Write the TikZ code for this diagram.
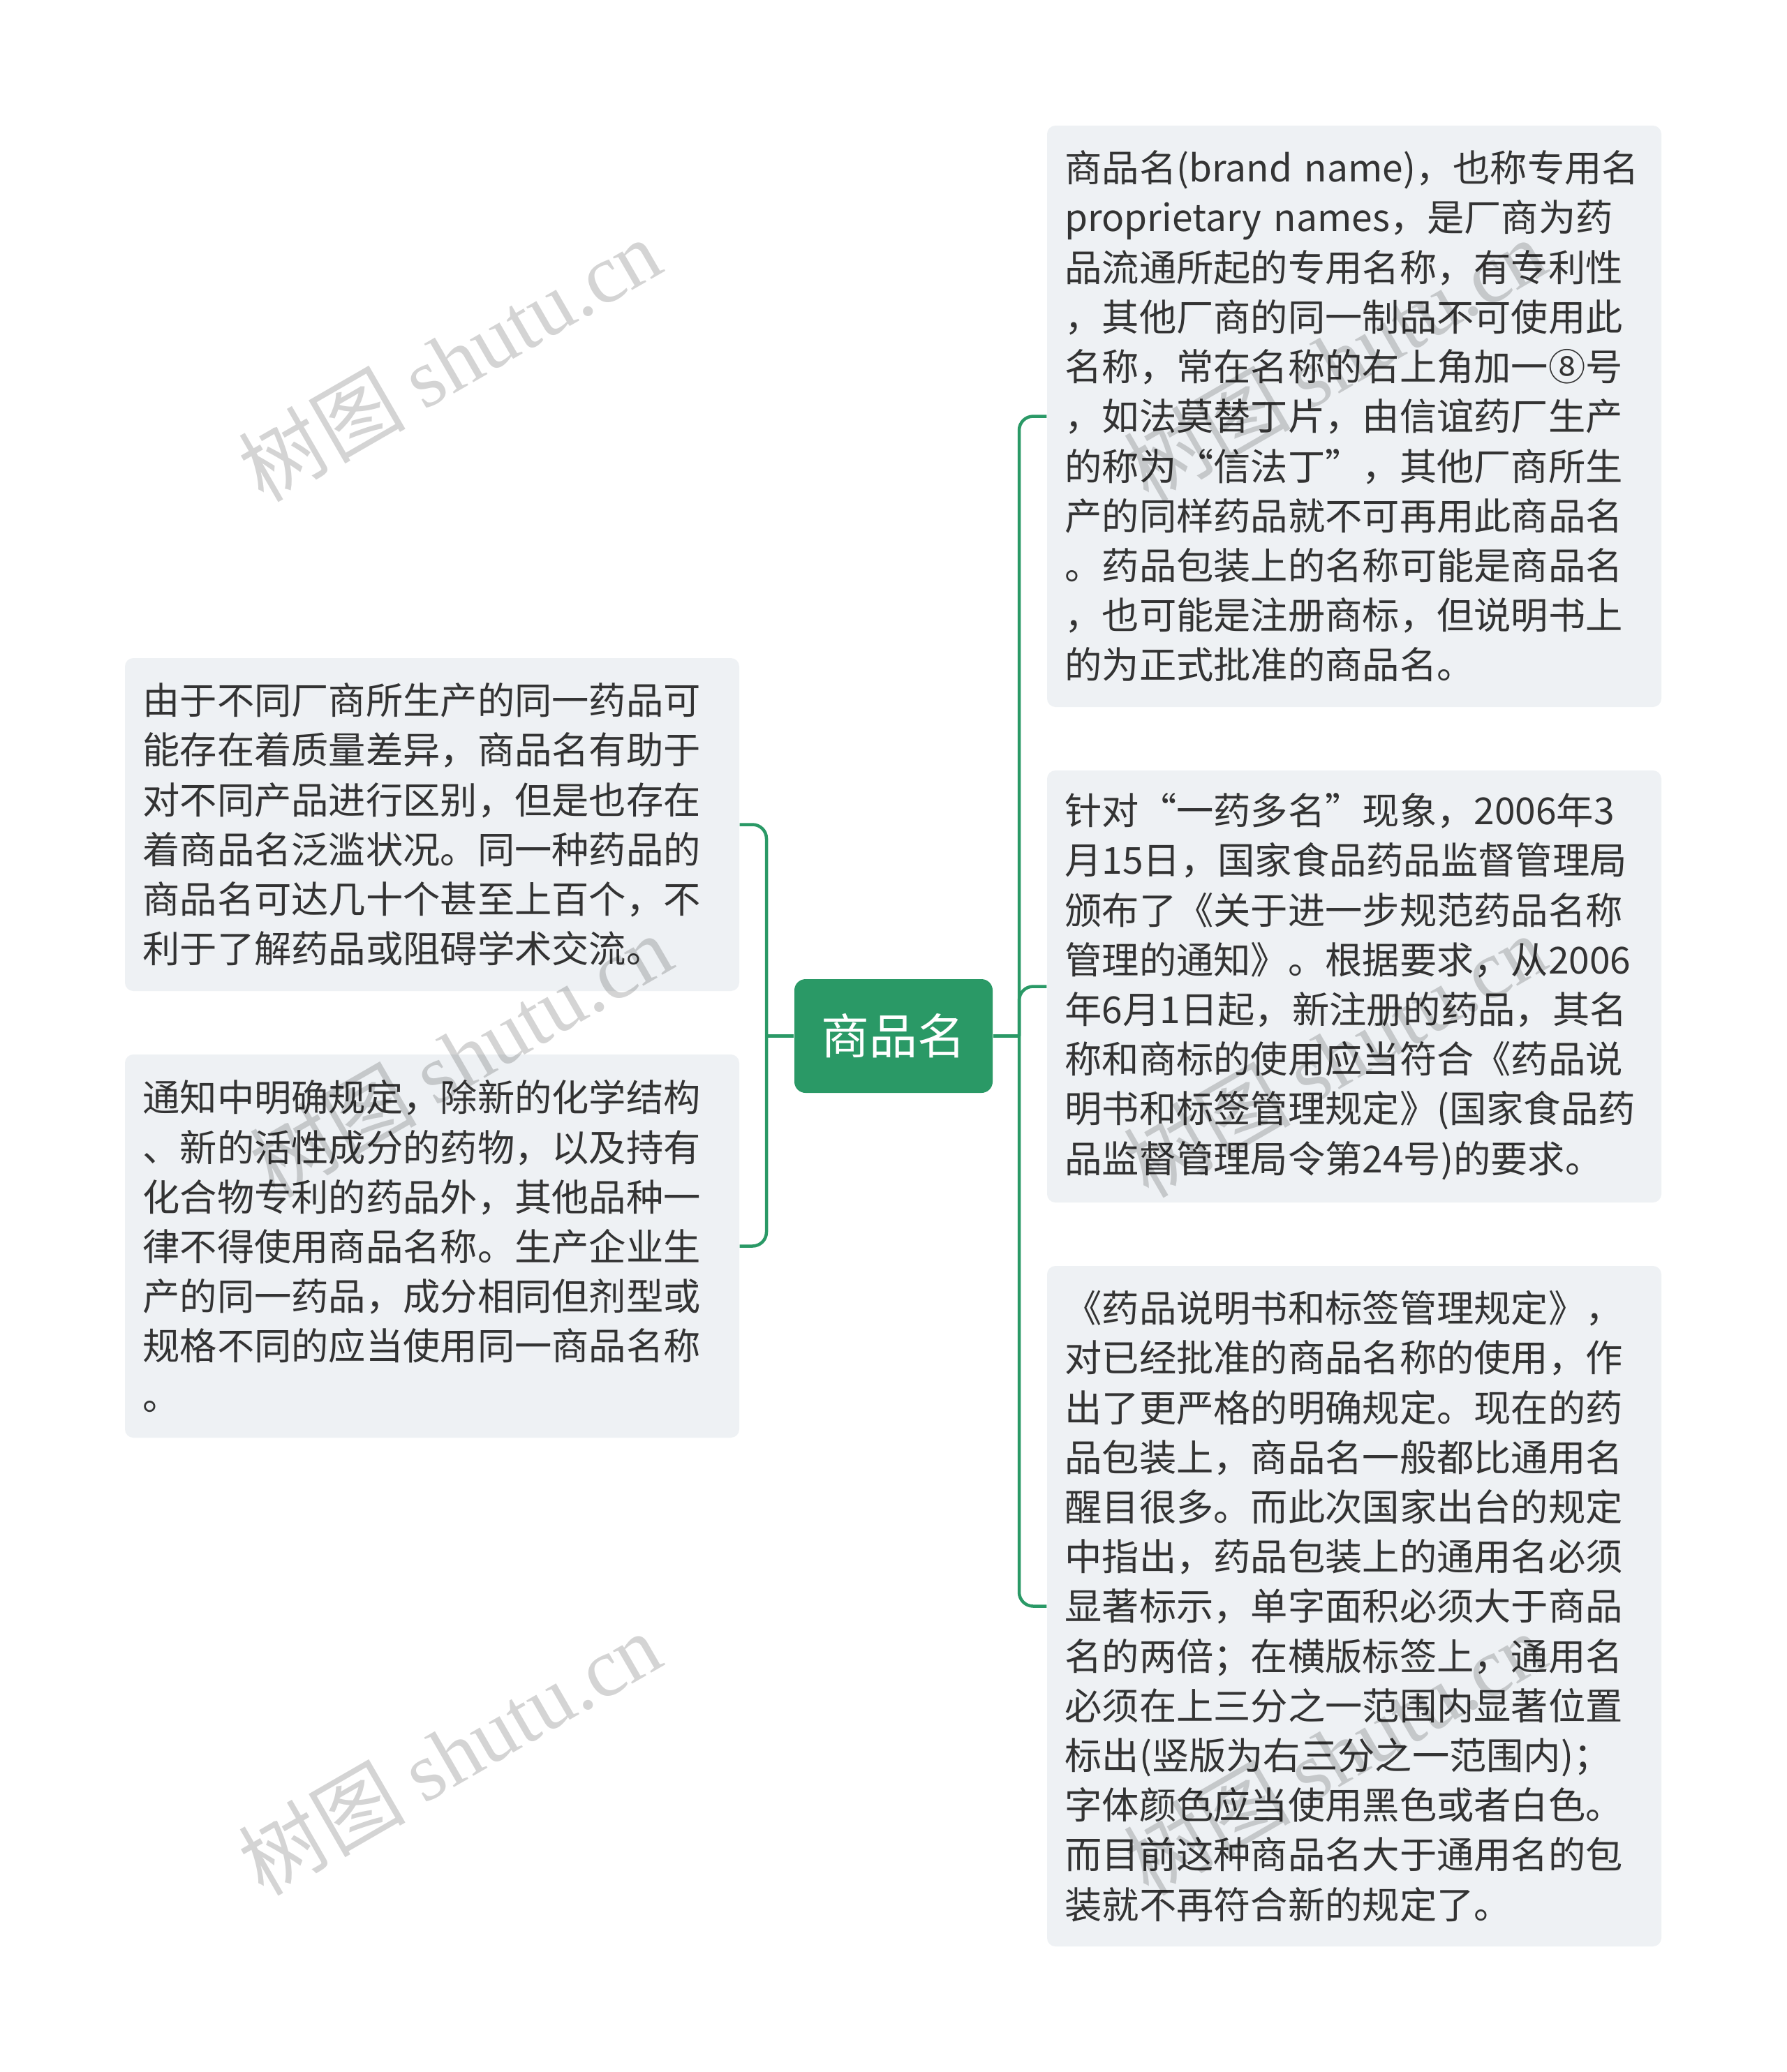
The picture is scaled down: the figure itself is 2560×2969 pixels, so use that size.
\documentclass[tikz,border=0pt]{standalone}
\usepackage{fontspec}
\setmainfont{Noto Sans CJK SC}
\newfontfamily\wmlatin{Liberation Serif}
\definecolor{mgreen}{HTML}{2A9966}
\definecolor{boxbg}{HTML}{EEF1F4}
\definecolor{txt}{HTML}{333333}
\tikzset{
  topic/.style={fill=boxbg, rounded corners=1.2mm, text=txt, align=left,
    text width=82.9mm, inner xsep=2.55mm, inner ysep=0pt,
    font=\fontsize{15.16pt}{20.26pt}\selectfont},
  root/.style={fill=mgreen, rounded corners=1.6mm, text=white,
    minimum width=28.4mm, minimum height=16.3mm, inner sep=0pt,
    font=\fontsize{19.6pt}{24pt}\selectfont},
  conn/.style={draw=mgreen, line width=0.45mm, rounded corners=2mm},
  wm/.style={rotate=30, text=black, text opacity=0.17, inner sep=0pt,
    font=\fontsize{34pt}{40pt}\selectfont}
}
\begin{document}
\begin{tikzpicture}[x=0.1mm, y=-0.1mm]
\useasboundingbox (0,0) rectangle (2560,2969);
\fill[white] (0,0) rectangle (2560,2969);

\node[root] (c) at (1280,1484.5) {商品名};

\node[topic, minimum height=83.3mm] (r1) at (1940,596.5) {商品名(brand name)，也称专用名\\
proprietary names，是厂商为药\\
品流通所起的专用名称，有专利性\\
，其他厂商的同一制品不可使用此\\
名称，常在名称的右上角加一⑧号\\
，如法莫替丁片，由信谊药厂生产\\
的称为“信法丁”，其他厂商所生\\
产的同样药品就不可再用此商品名\\
。药品包装上的名称可能是商品名\\
，也可能是注册商标，但说明书上\\
的为正式批准的商品名。};

\node[topic, minimum height=61.9mm] (r2) at (1940,1413.5) {针对“一药多名”现象，2006年3\\
月15日，国家食品药品监督管理局\\
颁布了《关于进一步规范药品名称\\
管理的通知》。根据要求，从2006\\
年6月1日起，新注册的药品，其名\\
称和商标的使用应当符合《药品说\\
明书和标签管理规定》(国家食品药\\
品监督管理局令第24号)的要求。};

\node[topic, minimum height=97.5mm] (r3) at (1940,2301.5) {《药品说明书和标签管理规定》，\\
对已经批准的商品名称的使用，作\\
出了更严格的明确规定。现在的药\\
品包装上，商品名一般都比通用名\\
醒目很多。而此次国家出台的规定\\
中指出，药品包装上的通用名必须\\
显著标示，单字面积必须大于商品\\
名的两倍；在横版标签上，通用名\\
必须在上三分之一范围内显著位置\\
标出(竖版为右三分之一范围内)；\\
字体颜色应当使用黑色或者白色。\\
而目前这种商品名大于通用名的包\\
装就不再符合新的规定了。};

\node[topic, minimum height=47.7mm] (l1) at (619,1181.5) {由于不同厂商所生产的同一药品可\\
能存在着质量差异，商品名有助于\\
对不同产品进行区别，但是也存在\\
着商品名泛滥状况。同一种药品的\\
商品名可达几十个甚至上百个，不\\
利于了解药品或阻碍学术交流。};

\node[topic, minimum height=54.9mm] (l2) at (619,1785.5) {通知中明确规定，除新的化学结构\\
、新的活性成分的药物，以及持有\\
化合物专利的药品外，其他品种一\\
律不得使用商品名称。生产企业生\\
产的同一药品，成分相同但剂型或\\
规格不同的应当使用同一商品名称\\
。};

\coordinate (jr) at (1460,1484.5);
\coordinate (jl) at (1098,1484.5);
\draw[conn] (c.east) -- (jr);
\draw[conn] (r1.west) -| (jr) |- (r3.west);
\draw[conn] (r2.west) -| (jr);
\draw[conn] (c.west) -- (jl);
\draw[conn] (l1.east) -| (jl) |- (l2.east);

\node[wm] (w1) at (644,515) {树图 {\wmlatin shutu.cn}};
\node[wm] (w2) at (660,1512) {树图 {\wmlatin shutu.cn}};
\node[wm] (w3) at (644,2512) {树图 {\wmlatin shutu.cn}};
\node[wm] (w4) at (1912,515) {树图 {\wmlatin shutu.cn}};
\node[wm] (w5) at (1912,1512) {树图 {\wmlatin shutu.cn}};
\node[wm] (w6) at (1912,2512) {树图 {\wmlatin shutu.cn}};
\end{tikzpicture}
\end{document}
